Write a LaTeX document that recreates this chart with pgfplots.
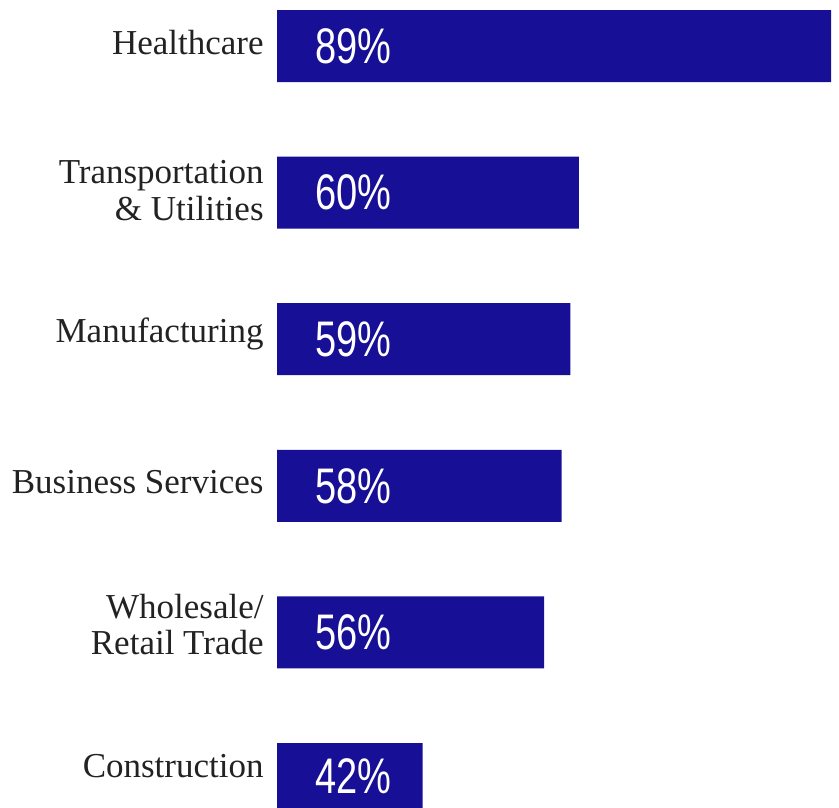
\documentclass[border=0pt]{standalone}
\usepackage{fontspec}
\setmainfont{Liberation Serif}
\newfontfamily\narrowsans[FakeStretch=0.76]{Liberation Sans}
\usepackage{pgfplots}
\pgfplotsset{compat=1.18}
\definecolor{barblue}{RGB}{23,15,150}
\definecolor{labelgray}{RGB}{34,34,34}

\begin{document}
\begin{tikzpicture}
\begin{axis}[
    at={(138.5pt,-22.65pt)}, anchor=south west,
    scale only axis,
    width=277pt, height=439.8pt,
    xmin=25.25, xmax=89,
    ymin=-0.5, ymax=5.5,
    y dir=reverse,
    axis line style={draw=none},
    tick style={draw=none},
    xtick=\empty,
    ytick={0,1,2,3,4,5},
    yticklabels={Healthcare, Transportation\\\& Utilities, Manufacturing,
        Business Services, Wholesale/\\Retail Trade, Construction},
    major tick length=0pt,
    yticklabel style={align=right, inner sep=0pt, xshift=-6.5pt,
        yshift={{1.5,1,2.5,1.75,4,6.5}[\ticknum]*1pt},
        text=labelgray, font=\fontsize{17.5}{18.3}\selectfont},
]
\addplot+[xbar, bar width=36pt, bar shift=0pt, fill=barblue, draw=none, mark=none]
coordinates {
    (89,0) (60,1) (59,2) (58,3) (56,4) (42,5)
};
\addplot[draw=none, mark=none,
    nodes near coords={\pgfplotspointmeta\%},
    point meta=explicit symbolic,
    every node near coord/.style={anchor=west, inner sep=0pt, text=white,
        font=\narrowsans\fontsize{25}{27}\selectfont}]
table[meta=label] {
    x      y     label
    29.62  0     89
    29.62  1     60
    29.62  2     59
    29.62  3     58
    29.62  4     56
    29.62  4.98  42
};
\end{axis}
\pgfresetboundingbox
\useasboundingbox (0,0) rectangle (419.5pt,403.5pt);
\end{tikzpicture}
\end{document}
